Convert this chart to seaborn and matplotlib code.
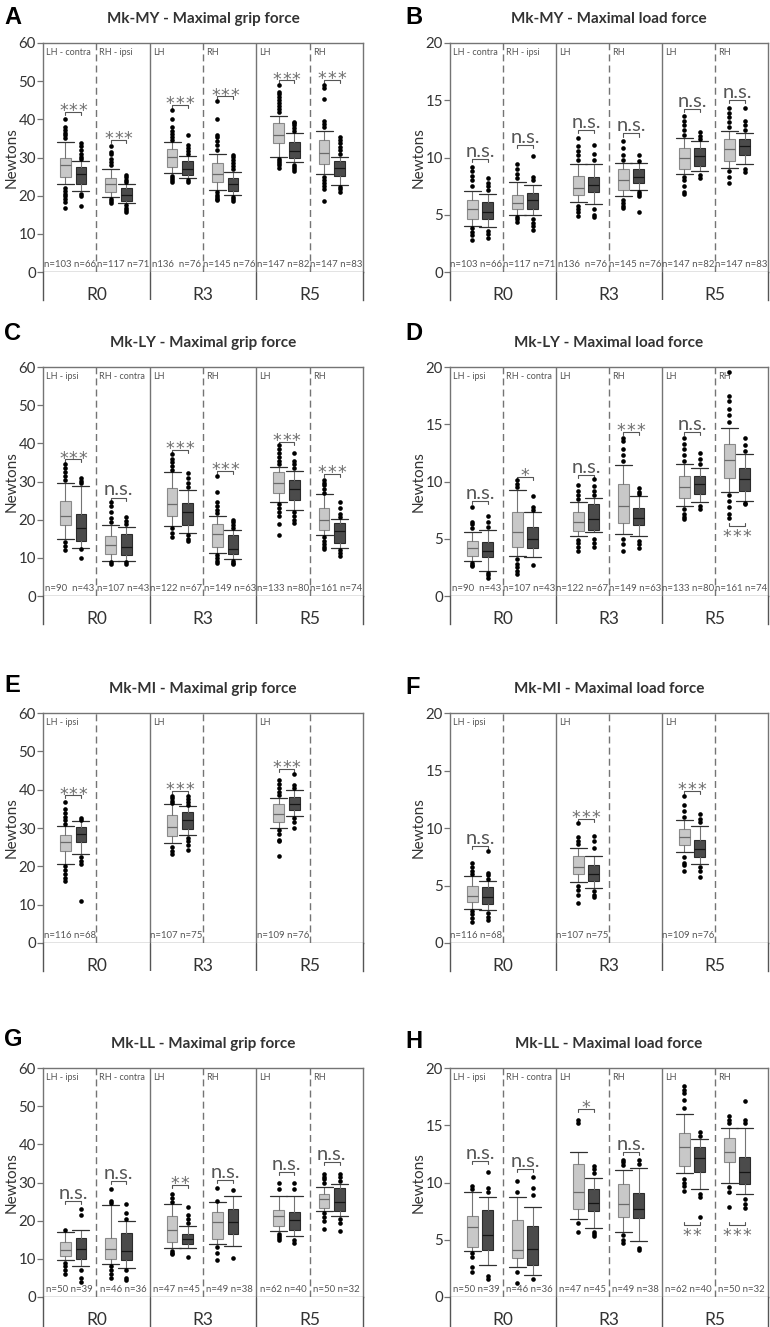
import matplotlib
matplotlib.use("Agg")
import matplotlib.pyplot as plt
import seaborn as sns
import pandas as pd

sns.set_style("ticks")
plt.rcParams['font.family'] = ['Lato', 'DejaVu Sans']

groups = ["R0", "R3", "R5"]

# box stats per box: [whisker low, Q1, median, Q3, whisker high]
# order: R0-LH light, R0-LH dark, R0-RH light, R0-RH dark, R3-LH ..., R5-RH dark
a_boxes = [[23, 25, 28, 30, 34], [21.3, 23, 25.7, 27.5, 29],
           [19.7, 21, 23, 24.5, 27], [18, 18.7, 20.3, 22, 23],
           [26, 27.5, 30.2, 32.3, 34], [24.5, 25.5, 27, 29, 30.3],
           [21.5, 23.5, 25.8, 28.5, 31], [20.3, 21.3, 23, 24.5, 26.2],
           [30.2, 33.7, 36, 39, 41], [28.8, 29.8, 31.8, 34, 36.5],
           [25.7, 28.2, 31.2, 34.7, 37], [22.7, 25.2, 27.3, 29.2, 30.2]]
a_fliers = [[35, 35.8, 36.5, 37.2, 38, 40.2, 22, 21.2, 20.5, 19.8, 19, 18.3, 16.8],
            [29.5, 30.2, 31, 32, 33, 33.8, 20.5, 19.8, 17.2],
            [28, 28.8, 29.7, 30.8, 31.5, 33, 19.2, 18.6, 18],
            [23.6, 24.2, 24.8, 25.3, 17.5, 16.8, 16.3, 15.6],
            [34.7, 35.5, 36.2, 37, 38, 40, 42.5, 25.2, 24.6, 24, 23.5],
            [31, 31.7, 32.6, 33.2, 36, 24, 23.5],
            [32, 33.2, 34.2, 35.3, 36, 40, 44.8, 21, 20.3, 19.7, 19.2, 18.8],
            [27, 27.8, 28.6, 29.3, 30.2, 30.6, 19.6, 19.1, 18.7],
            [41.8, 42.6, 43.4, 44.2, 45, 45.8, 46.6, 47.2, 49, 29.6, 29, 28.5, 28, 27.2],
            [37, 37.7, 38.4, 39, 39.4, 28, 27.5, 27, 26.5],
            [38, 38.8, 39.5, 45.2, 48.3, 49, 25, 24.2, 23.4, 22.5, 21.8, 18.6],
            [31, 32, 32.8, 33.7, 34.6, 35.5, 22.3, 21.8, 21]]
a_sig = ["***", "***", "***", "***", "***", "***"]
a_sig_y = [42, 34.5, 43.7, 46, 50.2, 50.4]

b_boxes = [[4.0, 4.6, 5.5, 6.3, 7.1], [3.9, 4.6, 5.2, 6.1, 6.8],
           [5.0, 5.5, 6.0, 6.7, 7.9], [5.0, 5.5, 6.3, 6.9, 7.6],
           [6.1, 6.7, 7.3, 8.4, 9.4], [5.9, 7.0, 7.6, 8.3, 9.4],
           [6.6, 7.2, 8.0, 9.0, 9.5], [7.2, 7.8, 8.3, 9.0, 9.5],
           [8.6, 9.0, 10.0, 10.8, 11.7], [8.8, 9.3, 10.1, 10.8, 11.4],
           [9.1, 9.7, 10.7, 11.6, 12.3], [9.4, 10.2, 11.0, 11.6, 12.1]]
b_fliers = [[7.5, 8.0, 8.4, 8.8, 9.2, 3.8, 3.5, 3.2, 2.8],
            [7.2, 7.5, 7.8, 8.2, 3.6, 3.3, 3.0],
            [8.2, 8.6, 9.0, 9.4, 4.8, 4.6, 4.4],
            [8.0, 8.3, 10.1, 4.6, 4.3, 4.0, 3.7],
            [9.8, 10.2, 10.6, 11.0, 11.7, 5.8, 5.5, 5.2, 4.9],
            [9.8, 10.3, 11.1, 5.5, 5.0, 4.8],
            [9.8, 10.2, 10.8, 11.4, 6.3, 6.0, 5.8, 5.6],
            [9.7, 10.2, 7.0, 6.8, 6.6, 5.2],
            [12.0, 12.4, 12.8, 13.2, 13.6, 8.3, 8.0, 7.5, 7.0, 6.8],
            [11.6, 11.9, 12.2, 8.5, 8.2],
            [12.7, 13.1, 13.5, 13.9, 14.3, 8.8, 8.3, 7.8],
            [12.4, 12.8, 13.2, 14.3, 9.0, 8.7]]
b_sig = ["n.s.", "n.s.", "n.s.", "n.s.", "n.s.", "n.s."]
b_sig_y = [9.9, 11.1, 12.4, 12.1, 14.2, 15.0]

c_boxes = [[15, 18.5, 21, 25, 29.7], [12.6, 14.3, 17.7, 21.5, 28.9],
           [9.3, 11.1, 13.3, 15.8, 18.5], [9.3, 10.7, 12.8, 16.2, 18.2],
           [18.3, 21, 24.2, 28.2, 32.4], [16.6, 18.5, 22, 24.3, 27.8],
           [11.3, 12.8, 16.2, 18.8, 21], [9.6, 11, 12.3, 16, 17.2],
           [24.6, 27, 29.7, 32.4, 33.8], [22.6, 25.2, 28, 30.5, 32.8],
           [16, 17.4, 20, 23, 26.6], [12.6, 13.8, 17, 19.2, 20.2]]
c_fliers = [[30.5, 31.5, 32.5, 33.5, 34.5, 14.2, 13, 12],
            [29.5, 30.2, 31, 12.2, 10],
            [19.5, 20.5, 22, 23.5, 24.5, 8.8, 8.3],
            [18.8, 19.7, 20.8, 8.8, 8.3],
            [33, 34, 35, 36, 37.3, 17.8, 16.5, 15.4],
            [28.5, 29.5, 31, 32.3, 16, 15, 14.5],
            [21.8, 22.5, 23.5, 24.5, 27.2, 31.5, 10.8, 10, 9.3, 8.6],
            [17.8, 18.5, 19.3, 20, 9.2, 8.6, 8.3],
            [34.5, 35.5, 36.5, 37.5, 38.5, 39.5, 24, 23, 22, 21, 18.8, 16],
            [33.5, 34.5, 35.5, 37.5, 22, 21, 20, 19],
            [27, 28, 29, 29.7, 30.5, 15.5, 14.5, 13.5, 12.8, 12.2],
            [20.8, 21.5, 23, 24.6, 12, 11.2, 10.5]]
c_sig = ["***", "n.s.", "***", "***", "***", "***"]
c_sig_y = [35.8, 25.8, 38.2, 32.8, 40.3, 31.9]

d_boxes = [[3.1, 3.5, 4.2, 4.8, 5.6], [2.2, 3.4, 3.9, 4.7, 5.8],
           [3.5, 4.3, 5.6, 7.3, 9.3], [3.4, 4.2, 5.0, 6.0, 7.3],
           [5.2, 5.7, 6.5, 7.3, 8.2], [5.6, 5.8, 6.7, 8.0, 8.6],
           [5.4, 6.4, 7.9, 9.8, 11.4], [5.2, 6.2, 6.8, 7.7, 8.7],
           [7.9, 8.6, 9.5, 10.5, 11.5], [8.2, 8.9, 9.8, 10.5, 11.2],
           [9.1, 10.3, 11.9, 13.3, 14.7], [8.3, 9.2, 10.2, 11.2, 12.4]]
d_fliers = [[5.9, 6.3, 6.5, 7.8, 2.9, 2.7, 2.6],
            [6.0, 6.5, 7.0, 2.0, 1.8, 1.6],
            [9.5, 9.8, 10.1, 3.2, 2.8, 2.5, 2.2, 1.9],
            [7.5, 7.8, 8.7, 2.7],
            [8.5, 8.8, 9.2, 9.7, 4.9, 4.6, 4.3, 3.9],
            [8.8, 9.2, 9.6, 10.2, 5.0, 4.6, 4.3],
            [11.8, 12.3, 12.8, 13.5, 13.8, 5.0, 4.5, 3.9],
            [8.9, 9.1, 9.4, 4.8, 4.5, 4.2],
            [11.8, 12.3, 12.8, 13.3, 13.8, 7.6, 7.2, 6.9, 6.7],
            [11.5, 12.0, 12.5, 7.9, 7.6],
            [15.2, 15.8, 16.3, 17.0, 17.5, 19.6, 8.8, 8.3, 7.8, 7.2, 6.8],
            [12.7, 13.2, 13.8, 8.1, 8.0]]
d_sig = ["n.s.", "*", "n.s.", "***", "n.s.", "***"]
d_sig_y = [8.3, 10.4, 10.6, 14.3, 14.3, 6.1]

e_boxes = [[20.5, 24, 26.3, 28.3, 30.5], [23.2, 26.3, 28.5, 30.3, 31.7], None, None,
           [26, 27.8, 30.2, 33.3, 36.2], [28.2, 29.8, 32.2, 34.2, 35.7], None, None,
           [30.1, 31.6, 33.7, 36.2, 37.9], [33.2, 34.6, 36.2, 38, 39.8], None, None]
e_fliers = [[31, 32, 33, 34, 35, 36.7, 20, 19, 18, 17, 16.3],
            [32, 32.5, 22.5, 21.5, 20.5, 11], [], [],
            [36.5, 37, 37.8, 38.3, 25, 24, 23.3],
            [36, 36.8, 37.5, 38.3, 27.5, 26.5, 25.5, 24.3], [], [],
            [38.5, 39.5, 40.5, 41.5, 42.6, 29.5, 28.5, 27, 26.5, 22.7],
            [40.5, 41.3, 44, 32.5, 31.5, 30], [], []]
e_sig = ["***", "", "***", "", "***", ""]
e_sig_y = [38.5, 0, 39.7, 0, 45.5, 0]

f_boxes = [[3.0, 3.6, 4.1, 5.0, 5.8], [2.9, 3.4, 4.0, 4.9, 5.4], None, None,
           [5.3, 6.0, 6.6, 7.6, 8.3], [4.8, 5.4, 6.0, 6.8, 7.6], None, None,
           [7.9, 8.5, 9.2, 9.9, 10.7], [6.9, 7.5, 8.2, 9.0, 10.2], None, None]
f_fliers = [[6.0, 6.3, 6.6, 7.0, 2.8, 2.5, 2.2, 1.8],
            [5.6, 5.9, 6.1, 8.0, 2.6, 2.3, 2.0], [], [],
            [8.6, 8.9, 9.2, 10.4, 5.0, 4.6, 4.2, 3.5],
            [8.3, 8.9, 9.3, 4.5, 4.2, 4.0], [], [],
            [11.0, 11.5, 12.0, 12.8, 7.5, 7.0, 6.8, 6.3],
            [10.5, 10.8, 11.2, 6.6, 6.3, 5.7], [], []]
f_sig = ["n.s.", "", "***", "", "***", ""]
f_sig_y = [8.4, 0, 10.8, 0, 13.2, 0]

g_boxes = [[9.7, 10.7, 12.3, 14.3, 17], [8.1, 10, 12.7, 15.5, 17.5],
           [8.6, 10, 12.5, 15.5, 24], [7.7, 9.6, 12.1, 16.8, 19.8],
           [12.8, 14.3, 17.5, 21.2, 24.4], [12.9, 13.9, 15.2, 16.5, 18.7],
           [13.8, 15.3, 19.6, 22.2, 24.8], [13.4, 16.4, 19.6, 23, 26.4],
           [17.3, 18.6, 21.3, 22.8, 26.4], [15.9, 17.5, 20.3, 22.3, 26.5],
           [22.6, 23.2, 25.8, 27, 28.8], [21.2, 22.6, 25, 28.6, 29.7]]
g_fliers = [[17.6, 9, 8, 7, 6],
            [21.5, 23, 7, 5, 3.8],
            [24.6, 25.2, 28.2, 8, 7, 6, 5.1],
            [20.5, 22, 24.3, 7, 5, 4.5],
            [25, 26, 27, 12, 11.5, 11.2],
            [19.5, 20.5, 21.5, 23.5, 10.5],
            [25.2, 28.6, 13, 11.5, 9.7],
            [28, 10.2],
            [28.3, 30, 16.5, 16, 15.5, 15],
            [28.3, 30, 15, 14.2],
            [29.8, 30.8, 31.5, 32.2, 22, 21, 20, 17.8],
            [30.3, 31.5, 32.2, 20.5, 19.5, 17.3]]
g_sig = ["n.s.", "n.s.", "**", "n.s.", "n.s.", "n.s."]
g_sig_y = [25.2, 30.5, 29.3, 30.7, 32.7, 35.3]

h_boxes = [[4.0, 4.4, 6.1, 7.1, 9.2], [2.8, 4.1, 5.4, 7.6, 8.7],
           [2.6, 3.4, 4.1, 6.7, 8.7], [1.9, 2.8, 4.2, 6.2, 7.9],
           [6.8, 7.7, 9.2, 11.6, 12.7], [6.0, 7.5, 8.2, 9.4, 10.4],
           [5.7, 7.0, 8.1, 9.9, 11.1], [4.9, 6.9, 7.7, 9.1, 11.3],
           [10.8, 11.4, 13.1, 14.3, 16], [9.4, 10.9, 12.1, 13.1, 13.8],
           [10.0, 11.8, 12.7, 13.9, 14.8], [9.0, 9.9, 10.9, 12.2, 14.8]]
h_fliers = [[9.4, 9.7, 3.8, 3.5, 2.6, 2.2],
            [9.2, 9.5, 10.9, 1.8, 1.6],
            [9.2, 10.1, 2.2, 1.2],
            [8.9, 9.5, 10.5, 1.6],
            [15.2, 15.5, 6.5, 5.7],
            [10.8, 11.2, 11.4, 5.7, 5.5, 5.3],
            [11.5, 11.8, 12.0, 5.4, 5.0, 4.7],
            [11.6, 12.0, 4.3, 4.1],
            [16.5, 17.2, 17.8, 18.1, 18.4, 10.3, 10.0, 9.7, 9.3],
            [14.1, 14.4, 9.0, 8.7, 7.0],
            [15.2, 15.5, 15.8, 9.6, 9.2, 7.9],
            [15.2, 15.5, 17.1, 8.6, 8.1, 7.8]]
h_sig = ["n.s.", "n.s.", "*", "n.s.", "**", "***"]
h_sig_y = [11.9, 11.2, 16.4, 12.7, 6.3, 6.3]

hands_my = ["LH - contra", "RH - ipsi", "LH", "RH", "LH", "RH"]
hands_ly = ["LH - ipsi", "RH - contra", "LH", "RH", "LH", "RH"]
hands_mi = ["LH - ipsi", "", "LH", "", "LH", ""]

counts_my = ["n=103 n=66", "n=117 n=71", "n136  n=76", "n=145 n=76", "n=147 n=82", "n=147 n=83"]
counts_ly = ["n=90  n=43", "n=107 n=43", "n=122 n=67", "n=149 n=63", "n=133 n=80", "n=161 n=74"]
counts_mi = ["n=116 n=68", "", "n=107 n=75", "", "n=109 n=76", ""]
counts_ll = ["n=50 n=39", "n=46 n=36", "n=47 n=45", "n=49 n=38", "n=62 n=40", "n=50 n=32"]

titles = ["Mk-MY - Maximal grip force", "Mk-MY - Maximal load force",
          "Mk-LY - Maximal grip force", "Mk-LY - Maximal load force",
          "Mk-MI - Maximal grip force", "Mk-MI - Maximal load force",
          "Mk-LL - Maximal grip force", "Mk-LL - Maximal load force"]
letters = ["A", "B", "C", "D", "E", "F", "G", "H"]

W, H = 770, 1327
LIGHT, LIGHT_EDGE = "#c8c8c8", "#8a8a8a"
DARK, DARK_EDGE = "#4b4b4b", "#2c2c2c"
LINE = "#747474"
TXT = "#555555"

fig = plt.figure(figsize=(7.7, 13.27), dpi=100)


def px_rect(left, top, width, height):
    return [left / W, 1 - (top + height) / H, width / W, height / H]


def draw_panel(letter, title, left, zero, width, height, strip, ymax, step,
               boxes, fliers, sig, sig_y, hands, counts, letter_xy):
    ax = fig.add_axes(px_rect(left, zero - height, width, height))
    ax.set_xlim(0, 6)
    ax.set_ylim(0, ymax)
    ax.set_yticks(range(0, ymax + 1, step))
    ax.set_xticks([])
    ax.tick_params(axis="y", length=4, width=0.9, color=LINE, pad=1,
                   labelsize=10.8, labelcolor="#333333")
    for s in ax.spines.values():
        s.set_color(LINE)
        s.set_linewidth(1)

    # box positions inside each hand sub-column
    positions = []
    for i in range(12):
        sub = i // 2
        off = (0.42, 0.71) if sub % 2 == 0 else (0.27, 0.56)
        positions.append(sub + off[i % 2])

    for kind, face, edge, med in [(0, LIGHT, LIGHT_EDGE, "#6a6a6a"), (1, DARK, DARK_EDGE, "#151515")]:
        stats, pos = [], []
        for i in range(kind, 12, 2):
            if boxes[i] is None:
                continue
            lo, q1, md, q3, hi = boxes[i]
            stats.append(dict(whislo=lo, q1=q1, med=md, q3=q3, whishi=hi, fliers=[]))
            pos.append(positions[i])
        ax.bxp(stats, positions=pos, widths=0.2, capwidths=0.32, patch_artist=True,
               showfliers=False, manage_ticks=False,
               boxprops=dict(facecolor=face, edgecolor=edge, linewidth=0.8),
               medianprops=dict(color=med, linewidth=0.9),
               whiskerprops=dict(color=LINE, linewidth=0.8),
               capprops=dict(color="#303030", linewidth=0.9))

    rows = [(positions[i], v) for i, vals in enumerate(fliers) for v in vals]
    df = pd.DataFrame(rows, columns=["x", "y"])
    sns.scatterplot(data=df, x="x", y="y", ax=ax, color="black", s=11,
                    linewidth=0, legend=False, zorder=4)
    ax.set_xlabel("")
    ax.set_ylabel("Newtons", fontsize=11, color="#333333")
    ax.yaxis.set_label_coords(-24 / width, 0.5)

    # separators
    for x in (1, 3, 5):
        ax.axvline(x, color=LINE, lw=1, ls=(0, (5, 3)))
    for x in (2, 4):
        ax.axvline(x, color=LINE, lw=1)

    # significance brackets
    tick = ymax / 75
    for g in range(6):
        if not sig[g]:
            continue
        x1, x2 = positions[2 * g], positions[2 * g + 1]
        y = sig_y[g]
        below = y < min(boxes[2 * g][0], boxes[2 * g + 1][0])
        d = tick if below else -tick
        ax.plot([x1, x1, x2, x2], [y + d, y, y, y + d], color="#555555", lw=0.8)
        if sig[g].startswith("*"):
            n = len(sig[g])
            off = -11.5 if below else -3.0
            for j in range(n):
                ax.annotate("*", ((x1 + x2) / 2, y), xytext=((j - (n - 1) / 2) * 7.0, off),
                            textcoords="offset points", ha="center", va="baseline",
                            fontsize=12.5, color="#707070", family=["DejaVu Sans"])
        else:
            ax.annotate(sig[g], ((x1 + x2) / 2, y), xytext=(0, 1.5), textcoords="offset points",
                        ha="center", va="baseline", fontsize=14.5, color=TXT)

    # hand labels and counts
    for g in range(6):
        if hands[g]:
            ax.annotate(hands[g], (g / 6, 1), xycoords="axes fraction", xytext=(2.2, -3.5),
                        textcoords="offset points", ha="left", va="top", fontsize=6.5, color=TXT)
        if counts[g]:
            ax.annotate(counts[g], ((g + 0.5) / 6, 0), xycoords="axes fraction", xytext=(0, 2),
                        textcoords="offset points", ha="center", va="bottom", fontsize=6.9, color=TXT)

    # session strip under the plot
    sx = fig.add_axes(px_rect(left, zero, width, strip))
    sx.set_xlim(0, 6)
    sx.set_ylim(0, strip)
    sx.set_xticks([])
    sx.set_yticks([])
    sx.spines["top"].set_visible(False)
    sx.spines["bottom"].set_visible(False)
    for s in ("left", "right"):
        sx.spines[s].set_color("#555555")
        sx.spines[s].set_linewidth(1)
    for x in (2, 4):
        sx.axvline(x, color="#555555", lw=1)
    for g, name in enumerate(groups):
        sx.text(2 * g + 1, strip - 23, name, ha="center", va="center", fontsize=12.5,
                color="#333333", clip_on=False)

    fig.text((left + width / 2) / W, 1 - (zero - height - 24) / H, title, ha="center",
             va="center", fontsize=11, fontweight="bold", color="#333333")
    fig.text(letter_xy[0] / W, 1 - letter_xy[1] / H, letter, ha="left", va="center",
             fontsize=17, fontweight="bold", family=["Liberation Sans"], color="black")


panels = [
    (a_boxes, a_fliers, a_sig, a_sig_y, hands_my, counts_my, 60, 10),
    (b_boxes, b_fliers, b_sig, b_sig_y, hands_my, counts_my, 20, 5),
    (c_boxes, c_fliers, c_sig, c_sig_y, hands_ly, counts_ly, 60, 10),
    (d_boxes, d_fliers, d_sig, d_sig_y, hands_ly, counts_ly, 20, 5),
    (e_boxes, e_fliers, e_sig, e_sig_y, hands_mi, counts_mi, 60, 10),
    (f_boxes, f_fliers, f_sig, f_sig_y, hands_mi, counts_mi, 20, 5),
    (g_boxes, g_fliers, g_sig, g_sig_y, hands_ly, counts_ll, 60, 10),
    (h_boxes, h_fliers, h_sig, h_sig_y, hands_ly, counts_ll, 20, 5),
]
zeros = [272, 596, 943, 1297]
heights = [229, 229, 230, 229]
strips = [28, 28, 28, 30]
lefts = [(43, 320), (450, 318)]
letter_pos = [(4, 17), (405, 17), (4, 333), (405, 334),
              (4, 685), (405, 687), (4, 1040), (405, 1042)]

for k, (bx, fl, sg, sy, hd, ct, ymax, step) in enumerate(panels):
    row, col = k // 2, k % 2
    draw_panel(letters[k], titles[k], lefts[col][0], zeros[row], lefts[col][1],
               heights[row], strips[row], ymax, step, bx, fl, sg, sy, hd, ct, letter_pos[k])

fig.savefig("out.png", dpi=100)
